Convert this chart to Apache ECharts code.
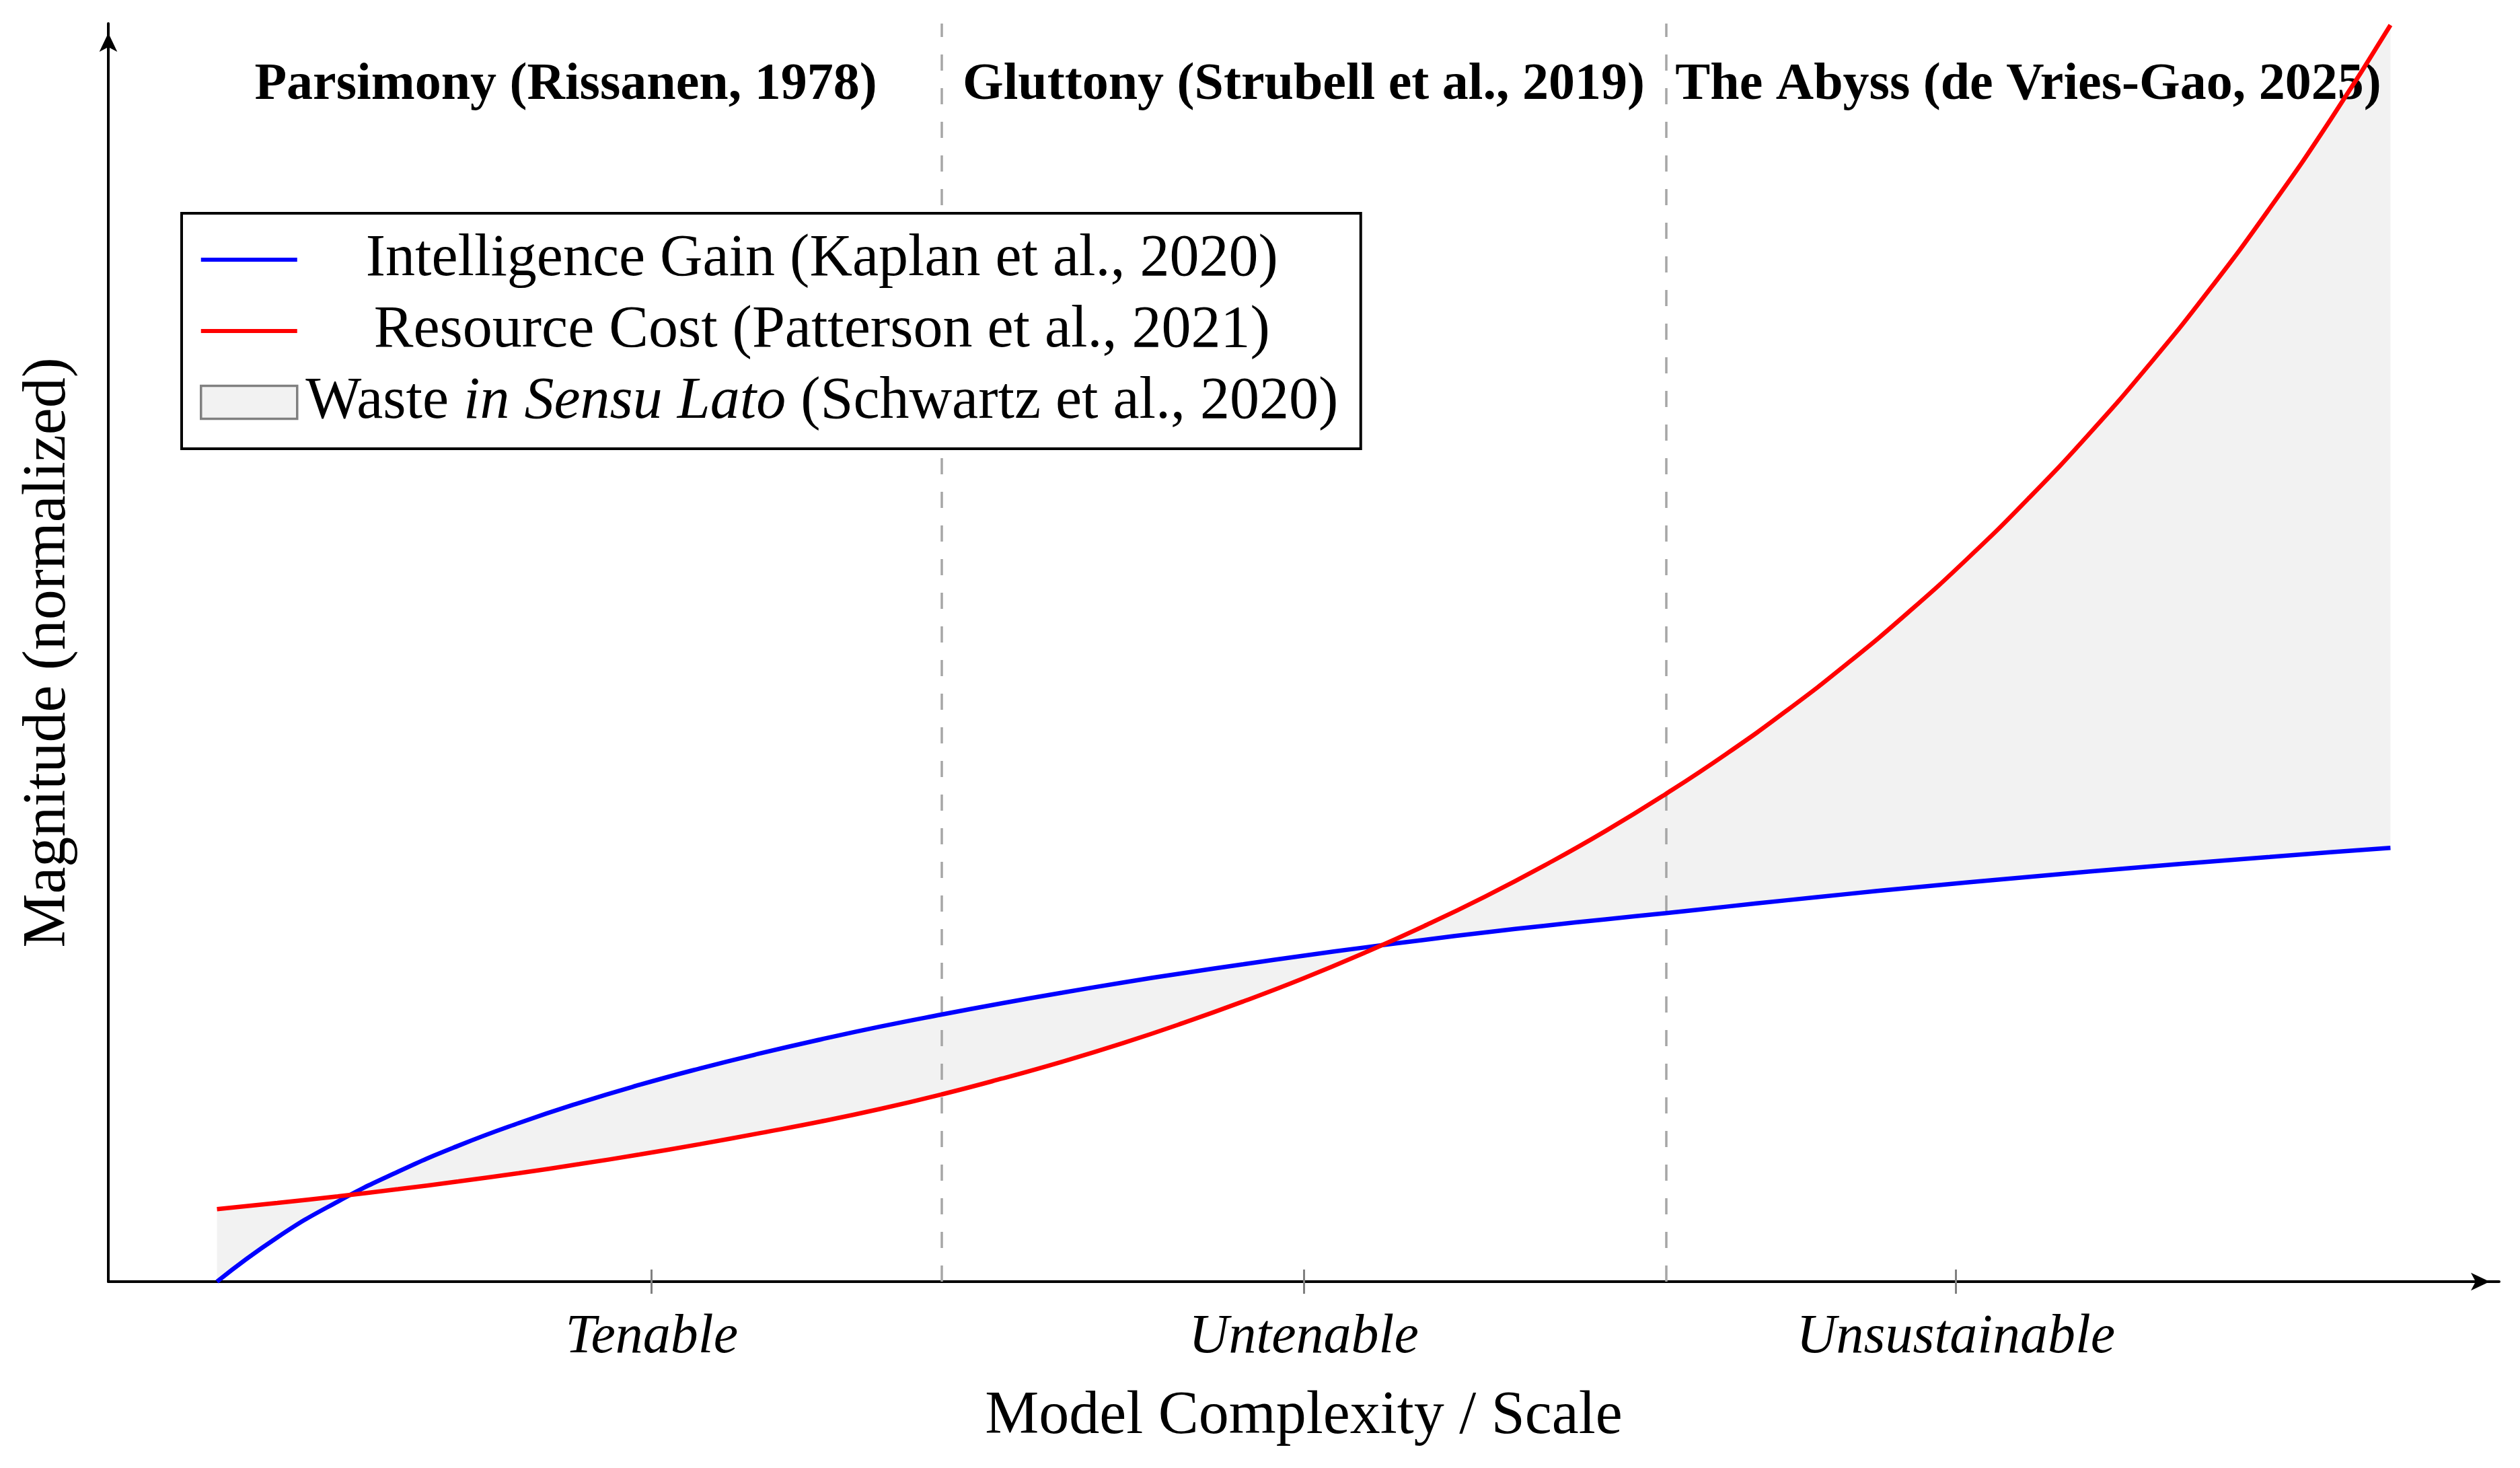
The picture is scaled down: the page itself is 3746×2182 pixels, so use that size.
<!DOCTYPE html>
<html>
<head>
<meta charset="utf-8">
<title>Waste in sensu lato</title>
<script src="https://cdn.jsdelivr.net/npm/echarts@6/dist/echarts.min.js"></script>
<style>
html, body { margin: 0; padding: 0; background: #fff; }
#main { width: 3746px; height: 2182px; }
</style>
</head>
<body>
<div id="main"></div>
<script>
// model complexity samples
var xs = [1, 1.25, 1.5, 1.75, 2, 2.25, 2.5, 2.75, 3, 3.25, 3.5, 3.75, 4, 4.25, 4.5, 4.75, 5, 5.25, 5.5,
	5.75, 6, 6.25, 6.5, 6.75, 7, 7.25, 7.5, 7.75, 8, 8.25, 8.5, 8.75, 9, 9.25, 9.5, 9.75, 10];
// intelligence gain (blue)
var gain = [0, 0.235, 0.425, 0.584, 0.722, 0.842, 0.949, 1.045, 1.132, 1.212, 1.286, 1.355, 1.418, 1.478, 1.534,
	1.588, 1.638, 1.685, 1.731, 1.774, 1.815, 1.854, 1.890, 1.924, 1.957, 1.991, 2.025, 2.058, 2.090, 2.120, 2.149,
	2.177, 2.204, 2.230, 2.255, 2.280, 2.303];
// resource cost (red)
var cost = [0.385, 0.418, 0.453, 0.491, 0.532, 0.576, 0.624, 0.675, 0.730, 0.789, 0.850, 0.918, 0.994, 1.078,
	1.168, 1.266, 1.373, 1.488, 1.611, 1.745, 1.889, 2.044, 2.212, 2.393, 2.590, 2.802, 3.032, 3.281, 3.550, 3.841,
	4.157, 4.498, 4.867, 5.266, 5.699, 6.166, 6.672];

var regionBounds = [1, 4, 7, 10];
var regionNames = ['Parsimony (Rissanen, 1978)', 'Gluttony (Strubell et al., 2019)', 'The Abyss (de Vries-Gao, 2025)'];
var tickValues = [2.8, 5.5, 8.2];
var tickLabels = ['Tenable', 'Untenable', 'Unsustainable'];
var seriesNames = ['Intelligence Gain (Kaplan et al., 2020)', 'Resource Cost (Patterson et al., 2021)',
	'Waste in Sensu Lato (Schwartz et al., 2020)'];

var FONT = "'Liberation Serif', 'DejaVu Serif', serif";

function pairs(ys) {
	var out = [];
	for (var i = 0; i < xs.length; i++) {
		out.push([xs[i], ys[i]]);
	}
	return out;
}

var arrowAxisLine = {
	show: true,
	onZero: false,
	lineStyle: { color: '#000', width: 4 },
	symbol: ['none', 'arrow'],
	symbolSize: [20, 28],
	symbolOffset: [0, -14]
};

var option = {
	backgroundColor: '#fff',
	animation: false,
	grid: { left: 161, right: 31, top: 35, bottom: 277, containLabel: false, outerBoundsMode: 'none' },
	legend: {
		orient: 'vertical',
		left: 270,
		top: 317,
		padding: [25, 26, 25, 27],
		itemWidth: 143,
		itemHeight: 49,
		itemGap: 18,
		backgroundColor: '#fff',
		borderColor: '#000',
		borderWidth: 4,
		borderRadius: 0,
		selectedMode: false,
		data: [
			{ name: seriesNames[0], icon: 'path://M0,0L143,0L143,6L0,6Z', itemStyle: { color: '#0000ff', borderWidth: 0 } },
			{ name: seriesNames[1], icon: 'path://M0,0L143,0L143,6L0,6Z', itemStyle: { color: '#ff0000', borderWidth: 0 } },
			{ name: seriesNames[2], icon: 'rect', itemStyle: { color: '#f2f2f2', borderColor: '#808080', borderWidth: 3.5 } }
		],
		formatter: function (name) {
			if (name === seriesNames[2]) {
				return '{a|Waste }{i|in Sensu Lato}{a| (Schwartz et al., 2020)}';
			}
			return '{a|' + name + '}';
		},
		textStyle: {
			width: 1550,
			fontFamily: FONT,
			fontSize: 88,
			lineHeight: 88,
			color: '#000',
			rich: {
				a: { fontFamily: FONT, fontSize: 88, lineHeight: 88, color: '#000', align: 'center' },
				i: { fontFamily: FONT, fontSize: 88, lineHeight: 88, color: '#000', fontStyle: 'italic', align: 'center' }
			}
		}
	},
	xAxis: [{
		type: 'value',
		min: 0.55,
		max: 10.45,
		axisLine: arrowAxisLine,
		axisTick: { show: false },
		splitLine: { show: false },
		axisLabel: {
			customValues: tickValues,
			formatter: function (v) {
				var k = tickValues.indexOf(v);
				return k >= 0 ? tickLabels[k] : '';
			},
			margin: 42,
			fontFamily: FONT,
			fontStyle: 'italic',
			fontSize: 82,
			lineHeight: 82,
			color: '#000'
		},
		name: 'Model Complexity / Scale',
		nameLocation: 'middle',
		nameGap: 156,
		nameTextStyle: { fontFamily: FONT, fontSize: 90, lineHeight: 90, color: '#000' }
	}, {
		// second axis only carries the tick marks that cross the axis line
		type: 'value',
		min: 0.55,
		max: 10.45,
		position: 'bottom',
		offset: -18,
		axisLine: { show: false },
		axisLabel: { show: false },
		splitLine: { show: false },
		axisTick: { show: true, customValues: tickValues, length: 36, lineStyle: { color: '#808080', width: 3 } }
	}],
	yAxis: {
		type: 'value',
		min: 0,
		max: 6.68,
		axisLine: arrowAxisLine,
		axisTick: { show: false },
		axisLabel: { show: false },
		splitLine: { show: false },
		name: 'Magnitude (normalized)',
		nameLocation: 'middle',
		nameGap: 44,
		nameTextStyle: { fontFamily: FONT, fontSize: 90, lineHeight: 90, color: '#000' }
	},
	series: [
		{
			name: seriesNames[2],
			type: 'custom',
			z: 0,
			clip: false,
			silent: true,
			data: [[xs[0], gain[0]]],
			encode: { x: 0, y: 1 },
			renderItem: function (params, api) {
				var pts = [];
				for (var i = 0; i < xs.length; i++) {
					pts.push(api.coord([xs[i], gain[i]]));
				}
				for (var j = xs.length - 1; j >= 0; j--) {
					pts.push(api.coord([xs[j], cost[j]]));
				}
				return { type: 'polygon', shape: { points: pts }, style: { fill: '#f2f2f2' } };
			},
			itemStyle: { color: '#f2f2f2' },
			markLine: {
				silent: true,
				z: 1,
				symbol: ['none', 'none'],
				label: { show: false },
				lineStyle: { color: '#a6a6a6', width: 3.5, type: [24, 26] },
				data: regionBounds.slice(1, -1).map(function (b) { return { xAxis: b }; })
			},
			markArea: {
				silent: true,
				z: 1,
				itemStyle: { color: 'rgba(0,0,0,0)' },
				label: {
					show: true,
					position: 'insideTop',
					distance: 53,
					fontFamily: FONT,
					fontWeight: 'bold',
					fontSize: 78,
					lineHeight: 78,
					color: '#000'
				},
				data: regionNames.map(function (n, i) {
					var start = { name: n, xAxis: regionBounds[i] };
					if (i === 0) {
						// first heading sits a little left of its band centre
						start.label = { offset: [-20, 0] };
					}
					return [start, { xAxis: regionBounds[i + 1] }];
				})
			}
		},
		{
			name: seriesNames[0],
			type: 'line',
			z: 3,
			smooth: true,
			symbol: 'none',
			showSymbol: false,
			clip: false,
			data: pairs(gain),
			lineStyle: { color: '#0000ff', width: 6.5 },
			itemStyle: { color: '#0000ff' }
		},
		{
			name: seriesNames[1],
			type: 'line',
			z: 4,
			smooth: true,
			symbol: 'none',
			showSymbol: false,
			clip: false,
			data: pairs(cost),
			lineStyle: { color: '#ff0000', width: 6.5 },
			itemStyle: { color: '#ff0000' }
		}
	]
};

var myChart = echarts.init(document.getElementById('main'));
myChart.setOption(option);
</script>
</body>
</html>
